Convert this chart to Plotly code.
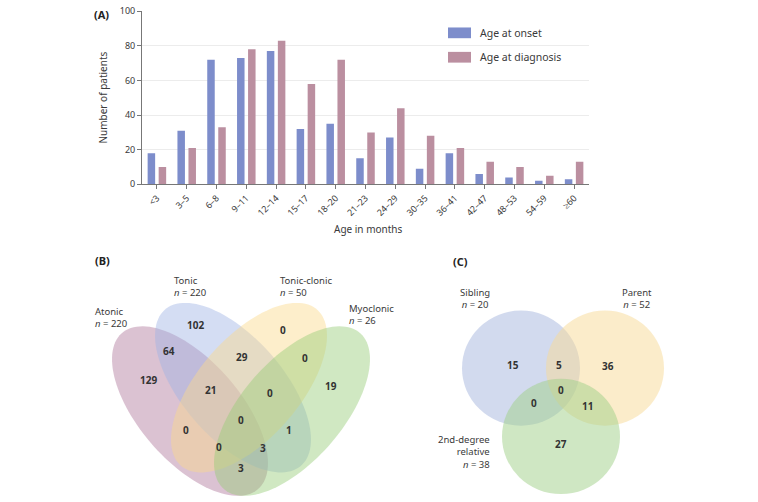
import numpy as np
import plotly.graph_objects as go

# ---------------- data ----------------
age_groups = ["<3", "3–5", "6–8", "9–11", "12–14", "15–17", "18–20", "21–23",
              "24–29", "30–35", "36–41", "42–47", "48–53", "54–59", "≥60"]
age_onset = [18, 31, 72, 73, 77, 32, 35, 15, 27, 9, 18, 6, 4, 2, 3]
age_diagnosis = [10, 21, 33, 78, 83, 58, 72, 30, 44, 28, 21, 13, 10, 5, 13]
series_names = ["Age at onset", "Age at diagnosis"]
y_ticks = [0, 20, 40, 60, 80, 100]

seizure_sets = ["Atonic", "Tonic", "Tonic-clonic", "Myoclonic"]
seizure_n = [220, 220, 50, 26]
seizure_region_counts = [102, 64, 129, 29, 0, 0, 19, 21, 0, 0, 0, 1, 0, 3, 3]

family_sets = ["Sibling", "Parent", "2nd-degree<br>relative"]
family_n = [20, 52, 38]
family_region_counts = [15, 5, 36, 0, 0, 11, 27]

# ---------------- layout helpers (pixel -> paper) ----------------
W, H = 758, 502
def px(x):
    return x / W
def py(y):
    return 1 - y / H

FONT = "Noto Sans"
TXT = "#3a3a3a"
BAR_COLORS = ["#7d8dcb", "#bb8fa0"]

fig = go.Figure()
for vals, name, col in zip([age_onset, age_diagnosis], series_names, BAR_COLORS):
    fig.add_trace(go.Bar(x=age_groups, y=vals, name=name, showlegend=False,
                         marker=dict(color=col, line=dict(width=0))))

shapes = []
annotations = []

def note(x, y, text, size=10, xanchor="center", align="center", color=TXT):
    annotations.append(dict(x=px(x), y=py(y), xref="paper", yref="paper",
                            text=text, showarrow=False, xanchor=xanchor,
                            yanchor="middle", align=align,
                            font=dict(size=size, color=color, family=FONT)))

# custom legend (wide swatches as in the reference)
for i, (name, col) in enumerate(zip(series_names, BAR_COLORS)):
    y0 = 22 + i * 25
    shapes.append(dict(type="rect", xref="paper", yref="paper",
                       x0=px(448), x1=px(471), y0=py(y0 + 11), y1=py(y0),
                       fillcolor=col, line=dict(width=0)))
    note(478, y0 + 5.5, name, size=10.5, xanchor="left", align="left")

def ellipse_path(cx, cy, a, b, theta_deg, n=120):
    th = np.deg2rad(theta_deg)
    t = np.linspace(0, 2 * np.pi, n)
    xs = cx + a * np.cos(t) * np.cos(th) - b * np.sin(t) * np.sin(th)
    ys = cy + a * np.cos(t) * np.sin(th) + b * np.sin(t) * np.cos(th)
    pts = [f"{px(x):.5f},{py(y):.5f}" for x, y in zip(xs, ys)]
    return "M " + " L ".join(pts) + " Z"

# Panel B ellipses (geometry in pixels)
ell_geom = [  # cx, cy, a, b, theta
    (190, 415, 105, 51, 50),
    (233, 391, 105, 51, 50),
    (249, 391, 105, 51, 130),
    (292, 415, 105, 51, 130),
]
ell_colors = ["rgba(175,120,155,0.45)", "rgba(160,180,228,0.45)",
              "rgba(250,218,140,0.45)", "rgba(150,205,120,0.45)"]
for (cx, cy, a, b, th), col in zip(ell_geom, ell_colors):
    shapes.append(dict(type="path", xref="paper", yref="paper",
                       path=ellipse_path(cx, cy, a, b, th),
                       fillcolor=col, line=dict(width=0), layer="above"))

seizure_region_pos = [(195, 327), (169, 353), (148, 383), (242, 360), (283, 332),
                      (305, 361), (331, 389), (210, 393), (270, 396), (241, 424),
                      (186, 434), (289, 434), (219, 452), (263, 453), (241, 473)]
for c, (x, y) in zip(seizure_region_counts, seizure_region_pos):
    note(x, y, f"<b>{c}</b>", size=10, color="#333")

seizure_label_pos = [(93, 319), (172, 287), (278, 287), (347, 316)]
for name, n, (x, y) in zip(seizure_sets, seizure_n, seizure_label_pos):
    note(x, y, f"{name}<br><i>n</i> = {n}", size=9.5, xanchor="left", align="left")

# Panel C circles
circ_geom = [(521, 371, 59), (605, 371, 59), (561, 441, 59)]
circ_colors = ["rgba(165,182,222,0.5)", "rgba(248,218,150,0.5)", "rgba(160,208,135,0.5)"]
for (cx, cy, r), col in zip(circ_geom, circ_colors):
    shapes.append(dict(type="circle", xref="paper", yref="paper",
                       x0=px(cx - r), x1=px(cx + r), y0=py(cy + r), y1=py(cy - r),
                       fillcolor=col, line=dict(width=0), layer="above"))

family_region_pos = [(513, 368), (559, 368), (608, 369), (534, 407), (561, 393),
                     (587, 410), (561, 449)]
for c, (x, y) in zip(family_region_counts, family_region_pos):
    note(x, y, f"<b>{c}</b>", size=10, color="#333")

family_label_pos = [(475, 300, "center"), (637, 300, "center"), (492, 457, "right")]
for name, n, (x, y, al) in zip(family_sets, family_n, family_label_pos):
    note(x, y, f"{name}<br><i>n</i> = {n}", size=9.5, xanchor=al, align=al)

# panel letters
for lab, (x, y) in zip(["(A)", "(B)", "(C)"], [(92, 9), (93, 261), (451, 262)]):
    note(x, y, f"<b>{lab}</b>", size=11, xanchor="left", align="left", color="#222")

# x-axis title
note(368, 228, "Age in months", size=10)

fig.update_layout(
    width=W, height=H,
    margin=dict(l=0, r=0, t=0, b=0),
    paper_bgcolor="white", plot_bgcolor="rgba(0,0,0,0)",
    barmode="group", bargap=0.26, bargroupgap=0.32,
    font=dict(family=FONT, color=TXT),
    showlegend=False,
    xaxis=dict(domain=[px(142), px(589)], range=[-0.5, 14.5],
               showline=True, linecolor="#777", linewidth=1,
               ticks="outside", ticklen=4, tickcolor="#777",
               tickangle=-45, tickfont=dict(size=9, color=TXT),
               showgrid=False, zeroline=False),
    yaxis=dict(domain=[py(182.7), py(5)], range=[0, 100.2],
               tickmode="array", tickvals=y_ticks, ticklabeloverflow="allow",
               showline=True, linecolor="#777", linewidth=1,
               ticks="outside", ticklen=4, tickcolor="#777",
               tickfont=dict(size=9, color=TXT),
               showgrid=True, gridcolor="#ececec", zeroline=False,
               title=dict(text="Number of patients", font=dict(size=10, color=TXT), standoff=10)),
    shapes=shapes, annotations=annotations,
)

fig.write_html("out.html", config={"displayModeBar": False},
               post_script="document.body.style.margin='0';")
